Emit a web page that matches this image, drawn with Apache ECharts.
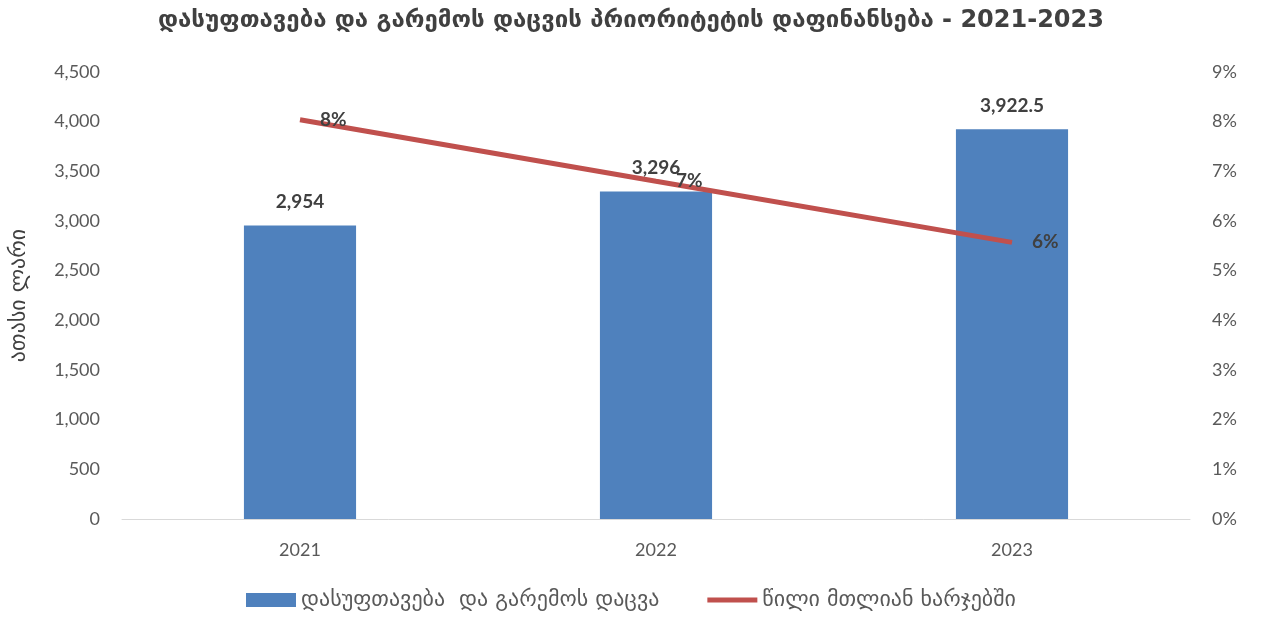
<!DOCTYPE html>
<html>
<head>
<meta charset="utf-8">
<script src="https://cdn.jsdelivr.net/npm/echarts@6/dist/echarts.min.js"></script>
<style>
  html, body { margin: 0; padding: 0; background: #fff; }
  #chart { width: 1262px; height: 618px; }
</style>
</head>
<body>
<div id="chart"></div>
<script>
// data
const years = ['2021', '2022', '2023'];
const spending = [2954, 3296, 3922.5];
const shareOfTotal = [0.0804, 0.068, 0.0557];
const leftTicks = [0, 4500, 500];
const rightTicks = [0, 0.09, 0.01];

const geoFont = 'DejaVu Sans';
const numFont = 'Lato';

const chart = echarts.init(document.getElementById('chart'));

const fmtNum = (v) => v.toLocaleString('en-US', { maximumFractionDigits: 1 });

const options = {
  animation: false,
  title: {
    text: 'დასუფთავება და გარემოს დაცვის პრიორიტეტის დაფინანსება - 2021-2023',
    left: 'center',
    top: 4,
    textStyle: { fontFamily: geoFont, fontSize: 24, fontWeight: 'bold', color: '#404040' }
  },
  grid: { left: 122, right: 72, top: 72, bottom: 99 },
  legend: {
    bottom: 2,
    left: 'center',
    itemGap: 48,
    itemWidth: 50,
    itemHeight: 14,
    textStyle: { fontFamily: geoFont, fontSize: 22, color: '#595959' },
    data: [
      { name: 'დასუფთავება  და გარემოს დაცვა', icon: 'rect' },
      { name: 'წილი მთლიან ხარჯებში', icon: 'path://M0,0 L50,0 L50,5 L0,5 Z' }
    ]
  },
  xAxis: {
    type: 'category',
    data: years,
    axisTick: { show: false },
    axisLine: { lineStyle: { color: '#d9d9d9' } },
    axisLabel: { fontFamily: numFont, fontSize: 18, color: '#595959', margin: 22 }
  },
  yAxis: [
    {
      type: 'value',
      min: leftTicks[0],
      max: leftTicks[1],
      interval: leftTicks[2],
      name: 'ათასი ლარი',
      nameLocation: 'middle',
      nameGap: 92,
      nameRotate: 90,
      nameTextStyle: { fontFamily: geoFont, fontSize: 22, color: '#404040' },
      splitLine: { show: false },
      axisLine: { show: false },
      axisTick: { show: false },
      axisLabel: { fontFamily: numFont, fontSize: 18, color: '#595959', margin: 22, formatter: fmtNum }
    },
    {
      type: 'value',
      min: rightTicks[0],
      max: rightTicks[1],
      interval: rightTicks[2],
      splitLine: { show: false },
      axisLine: { show: false },
      axisTick: { show: false },
      axisLabel: {
        fontFamily: numFont, fontSize: 18, color: '#595959', margin: 22,
        formatter: (v) => Math.round(v * 100) + '%'
      }
    }
  ],
  series: [
    {
      name: 'დასუფთავება  და გარემოს დაცვა',
      type: 'bar',
      data: spending,
      barWidth: '31.5%',
      itemStyle: { color: '#4f81bd' },
      label: {
        show: true,
        position: 'top',
        distance: 14,
        fontFamily: numFont,
        fontWeight: 'bold',
        fontSize: 19,
        color: '#404040',
        formatter: (p) => fmtNum(p.value)
      }
    },
    {
      name: 'წილი მთლიან ხარჯებში',
      type: 'line',
      yAxisIndex: 1,
      data: shareOfTotal,
      symbol: 'circle',
      symbolSize: 0.1,
      lineStyle: { color: '#c0504d', width: 5 },
      itemStyle: { color: '#c0504d' },
      label: {
        show: true,
        position: 'right',
        distance: 20,
        fontFamily: numFont,
        fontWeight: 'bold',
        fontSize: 19,
        color: '#404040',
        formatter: (p) => Math.round(p.value * 100) + '%'
      }
    }
  ]
};

chart.setOption(options);
</script>
</body>
</html>
